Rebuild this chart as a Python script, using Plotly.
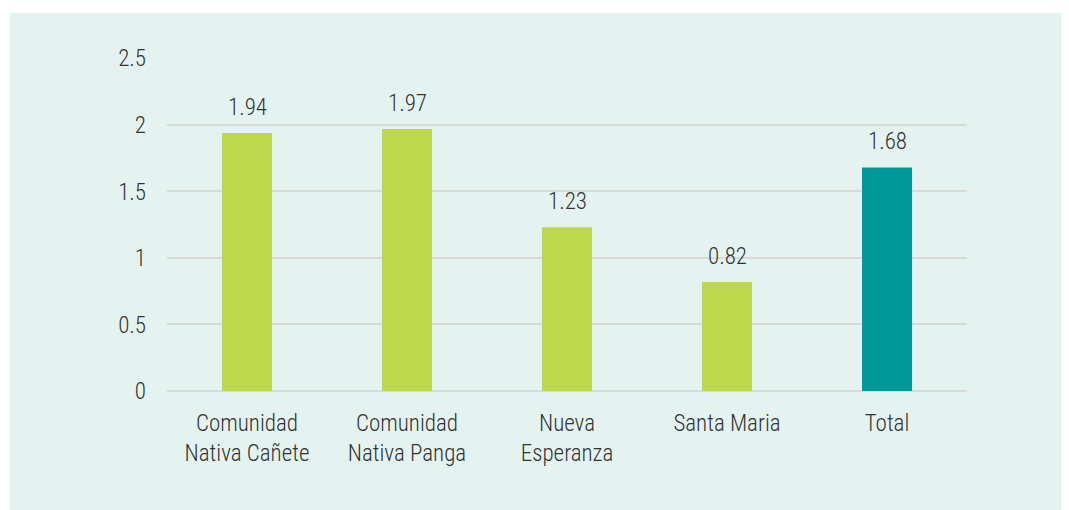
import plotly.graph_objects as go

categories = ["Comunidad<br>Nativa Cañete", "Comunidad<br>Nativa Panga",
              "Nueva<br>Esperanza", "Santa Maria", "Total"]
values = [1.94, 1.97, 1.23, 0.82, 1.68]
bar_colors = ["#bdd84d", "#bdd84d", "#bdd84d", "#bdd84d", "#009999"]
y_ticks = [0, 0.5, 1, 1.5, 2, 2.5]
y_labels = ["0", "0.5", "1", "1.5", "2", "2.5"]

font_family = "Liberation Sans Narrow, Roboto Condensed, Arial Narrow, sans-serif"
text_color = "#333333"
fsize = 23
fweight = 300

# page body has an 8px margin, so the figure is sized/offset to compensate
W, H = 1061, 502
L, T, R, B = 159, 50, 102, 119
plot_w = W - L - R
plot_h = H - T - B

fig = go.Figure(go.Bar(x=categories, y=values, marker_color=bar_colors,
                       marker_line_width=0, width=0.3125))

for c, v in zip(categories, values):
    fig.add_annotation(x=c, y=v, text=f"{v:.2f}", showarrow=False,
                       yanchor="bottom", yshift=10,
                       font=dict(size=fsize, color=text_color,
                                 family=font_family, weight=fweight))

# light mint panel behind everything
fig.add_shape(type="rect", xref="paper", yref="paper", layer="below",
              x0=(2 - L) / plot_w, x1=(W + 20 - L) / plot_w,
              y0=-(B + 20) / plot_h, y1=(plot_h + T - 5) / plot_h,
              fillcolor="#e5f3f0", line_width=0)

tick_font = dict(size=fsize, color=text_color, family=font_family, weight=fweight)

fig.update_layout(
    width=W, height=H,
    margin=dict(l=L, r=R, t=T, b=B),
    paper_bgcolor="white", plot_bgcolor="rgba(0,0,0,0)",
    font=dict(family=font_family, size=fsize, color=text_color, weight=fweight),
    showlegend=False,
    bargap=0.6875,
    xaxis=dict(showgrid=False, zeroline=False, showline=False,
               ticks="", ticklabelstandoff=16, tickfont=tick_font),
    yaxis=dict(range=[0, 2.503], tickvals=y_ticks, ticktext=y_labels,
               showgrid=True, gridcolor="#d9d9d9", gridwidth=2,
               zeroline=True, zerolinecolor="#d9d9d9", zerolinewidth=2,
               showline=False, ticks="",
               ticklabelstandoff=20, tickfont=tick_font),
)

fig.write_html("out.html")
